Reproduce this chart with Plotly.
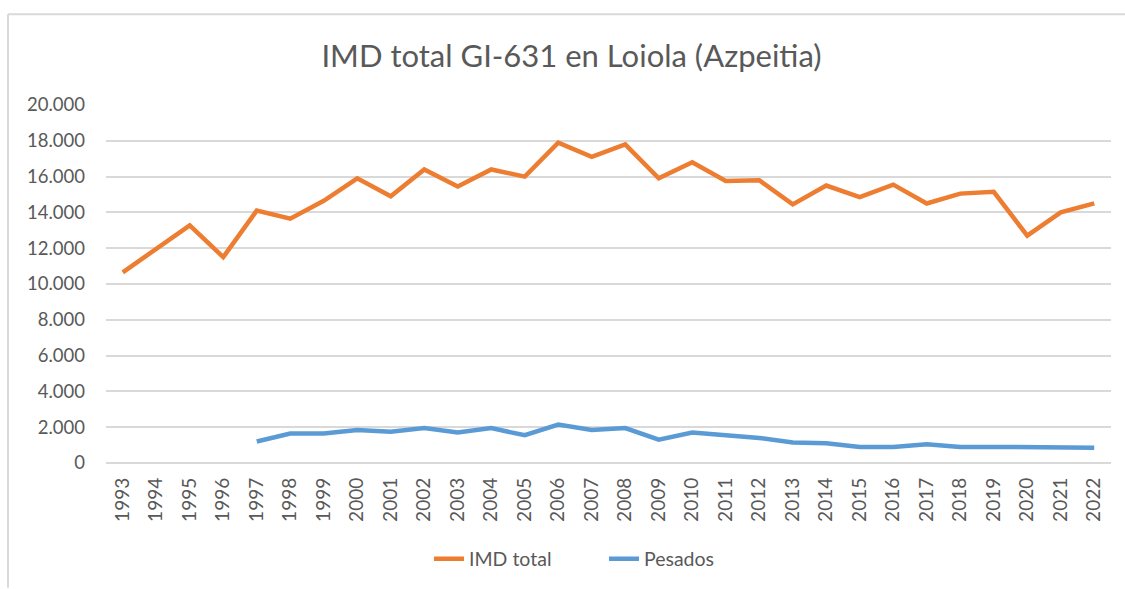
import plotly.graph_objects as go

# Annual average daily traffic (IMD) on the GI-631 at Loiola (Azpeitia)
years = [str(y) for y in range(1993, 2023)]

imd_total = [10650, 12000, 13280, 11500, 14100, 13650, 14650, 15900, 14900, 16400,
             15450, 16400, 16000, 17900, 17100, 17800, 15900, 16800, 15750, 15800,
             14450, 15500, 14850, 15550, 14500, 15050, 15150, 12700, 14000, 14500]

pesados = [None, None, None, None, 1200, 1650, 1650, 1850, 1750, 1950,
           1700, 1950, 1550, 2150, 1850, 1950, 1300, 1700, 1550, 1400,
           1150, 1100, 900, 900, 1050, 900, 900, 900, 850, 850]

y_ticks = list(range(0, 20001, 2000))

ORANGE = "#ED7D31"
BLUE = "#5B9BD5"
TEXT = "#595959"
GRID = "#D9D9D9"
FONT = "Lato, 'Open Sans', sans-serif"

fig = go.Figure()
fig.add_trace(go.Scatter(x=years, y=imd_total, mode="lines", name="IMD total",
                         line=dict(color=ORANGE, width=4.5)))
fig.add_trace(go.Scatter(x=years, y=pesados, mode="lines", name="Pesados",
                         line=dict(color=BLUE, width=4.5)))

W, H = 1125, 589
ml, mr, mt, mb = 106, 14, 105, 125
pw = W - ml - mr
ph = H - mt - mb

fig.update_layout(
    width=W, height=H,
    margin=dict(l=ml, r=mr, t=mt, b=mb),
    paper_bgcolor="white", plot_bgcolor="white",
    separators=",.",
    font=dict(family=FONT, color=TEXT, size=18),
    title=dict(text="IMD total GI-631 en Loiola (Azpeitia)",
               x=0.508, xanchor="center", y=1 - 56 / H, yanchor="middle",
               font=dict(size=31, color=TEXT, family=FONT)),
    xaxis=dict(type="category", range=[-0.5, 29.5], tickangle=-90,
               showgrid=False, showline=False, ticks="",
               ticklabelstandoff=10,
               tickfont=dict(size=19, color=TEXT)),
    yaxis=dict(range=[0, 20000], tickvals=y_ticks, tickformat=",d",
               showgrid=True, gridcolor=GRID, gridwidth=1.5,
               zeroline=True, zerolinecolor=GRID, zerolinewidth=1.5,
               showline=False, ticks="", ticklen=0,
               ticklabelstandoff=20,
               tickfont=dict(size=18.5, color=TEXT)),
    legend=dict(orientation="h", x=(429 - ml) / pw, xanchor="left",
                y=-95 / ph, yanchor="middle",
                entrywidth=130, entrywidthmode="pixels",
                font=dict(size=19.5, color=TEXT)),
    showlegend=True,
)

# Chart frame: top and left edges of the outer border
fig.add_shape(type="line", xref="paper", yref="paper",
              x0=(8 - ml) / pw, x1=(W - ml) / pw,
              y0=(H - mb - 14) / ph, y1=(H - mb - 14) / ph,
              line=dict(color=GRID, width=2))
fig.add_shape(type="line", xref="paper", yref="paper",
              x0=(8 - ml) / pw, x1=(8 - ml) / pw,
              y0=(H - mb - 14) / ph, y1=(H - mb - H) / ph,
              line=dict(color=GRID, width=2))

fig.write_html("out.html")
